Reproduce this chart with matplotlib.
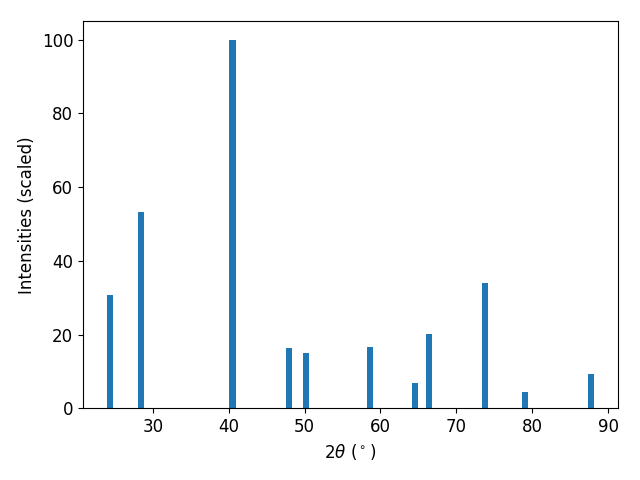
import numpy as np
import matplotlib
matplotlib.use("Agg")
import matplotlib.pyplot as plt

# posiciones de picos (2theta) e intensidades escaladas
dosTheta = [24.4, 28.4, 40.5, 47.9, 50.2, 58.6, 64.6, 66.4, 73.8, 79.0, 87.7]
intensidades = [30.8, 53.2, 100.0, 16.5, 15.1, 16.7, 7.0, 20.3, 34.1, 4.5, 9.4]

plt.rcParams['font.size'] = 12

fig, ax = plt.subplots(figsize=(6.4, 4.8), dpi=100)
ax.bar(dosTheta, intensidades, width=0.8)
ax.set_xlabel(r'$2\theta$ ($^\circ$)')
ax.set_ylabel('Intensities (scaled)')
fig.subplots_adjust(left=0.1297, right=0.9656, top=0.956, bottom=0.149)
fig.savefig('out.png')
